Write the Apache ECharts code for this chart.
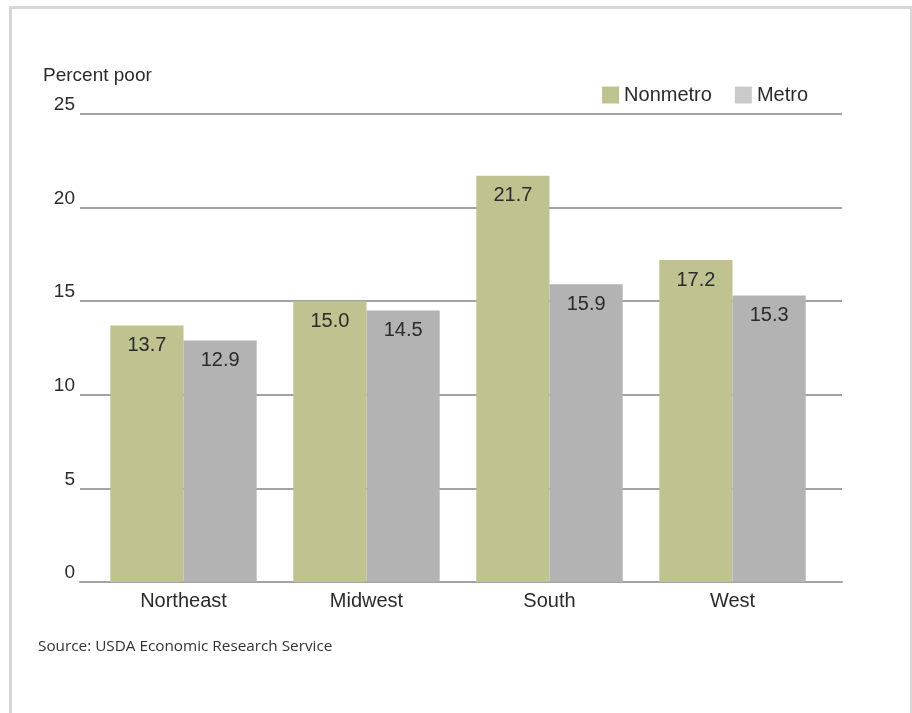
<!DOCTYPE html>
<html>
<head>
<meta charset="utf-8">
<script src="https://cdn.jsdelivr.net/npm/echarts@6/dist/echarts.min.js"></script>
<style>
  html, body { margin: 0; padding: 0; background: #fff; }
  #frame {
    position: absolute; left: 9px; top: 6px; width: 898px; height: 720px;
    border: 3px solid #d6d6d6; border-bottom: none;
  }
  #chart { position: absolute; left: 0; top: 0; width: 912px; height: 713px; }
</style>
</head>
<body>
<div id="frame"></div>
<div id="chart"></div>
<script>
  // data
  const regions = ['Northeast', 'Midwest', 'South', 'West'];
  const nonmetro = [13.7, 15.0, 21.7, 17.2];
  const metro = [12.9, 14.5, 15.9, 15.3];
  const yTicks = [0, 5, 10, 15, 20, 25];

  const FONT = '"Liberation Sans", Arial, sans-serif';
  const TEXT = '#2b2b2b';
  const LINE = '#a3a3a3';

  const myChart = echarts.init(document.getElementById('chart'));

  const barLabel = {
    show: true,
    position: 'insideTop',
    distance: 10,
    fontFamily: FONT,
    fontSize: 20,
    color: TEXT,
    formatter: (p) => p.value.toFixed(1),
  };

  // grid 0 carries the gridlines / axis line (wide), grid 1 the bars (a bit narrower)
  myChart.setOption({
    animation: false,
    title: {
      text: 'Percent poor',
      left: 43,
      top: 66,
      padding: 0,
      textStyle: { fontFamily: FONT, fontSize: 19, fontWeight: 'normal', color: TEXT },
    },
    legend: {
      right: 104,
      top: 85,
      padding: 0,
      itemWidth: 17,
      itemHeight: 17,
      itemGap: 23,
      icon: 'rect',
      textStyle: { fontFamily: FONT, fontSize: 20, color: TEXT, padding: [0, 0, 0, 0] },
      data: [
        { name: 'Nonmetro', itemStyle: { color: '#c0c38f' } },
        { name: 'Metro', itemStyle: { color: '#cbcbcb' } },
      ],
    },
    grid: [
      { left: 80, right: 70, top: 114, bottom: 131 },
      { left: 92, right: 88, top: 114, bottom: 131 },
    ],
    xAxis: [
      {
        type: 'category',
        gridIndex: 0,
        data: regions,
        axisLine: { lineStyle: { color: LINE, width: 2 } },
        axisTick: { show: false },
        axisLabel: { show: false },
      },
      {
        type: 'category',
        gridIndex: 1,
        data: regions,
        axisLine: { show: false },
        axisTick: { show: false },
        axisLabel: { fontFamily: FONT, fontSize: 20, color: TEXT, margin: 9 },
      },
    ],
    yAxis: [
      {
        type: 'value',
        gridIndex: 0,
        min: yTicks[0],
        max: yTicks[yTicks.length - 1],
        interval: 5,
        axisLine: { show: false },
        axisTick: { show: false },
        axisLabel: {
          fontFamily: FONT, fontSize: 19, color: TEXT, margin: 5,
          verticalAlign: 'bottom', lineHeight: 18,
        },
        splitLine: { lineStyle: { color: LINE, width: 2 } },
      },
      {
        type: 'value',
        gridIndex: 1,
        min: yTicks[0],
        max: yTicks[yTicks.length - 1],
        interval: 5,
        show: false,
        splitLine: { show: false },
      },
    ],
    graphic: [{
      type: 'text',
      left: 38,
      top: 639,
      style: {
        text: 'Source: USDA Economic Research Service',
        fontFamily: '"Open Sans", sans-serif',
        fontSize: 15.3,
        fill: '#333',
      },
    }],
    series: [
      {
        name: 'Nonmetro',
        type: 'bar',
        xAxisIndex: 1,
        yAxisIndex: 1,
        data: nonmetro,
        barGap: '0%',
        barCategoryGap: '20%',
        itemStyle: { color: '#c0c38f' },
        label: barLabel,
      },
      {
        name: 'Metro',
        type: 'bar',
        xAxisIndex: 1,
        yAxisIndex: 1,
        data: metro,
        itemStyle: { color: '#b3b3b3' },
        label: barLabel,
      },
    ],
  });
</script>
</body>
</html>
